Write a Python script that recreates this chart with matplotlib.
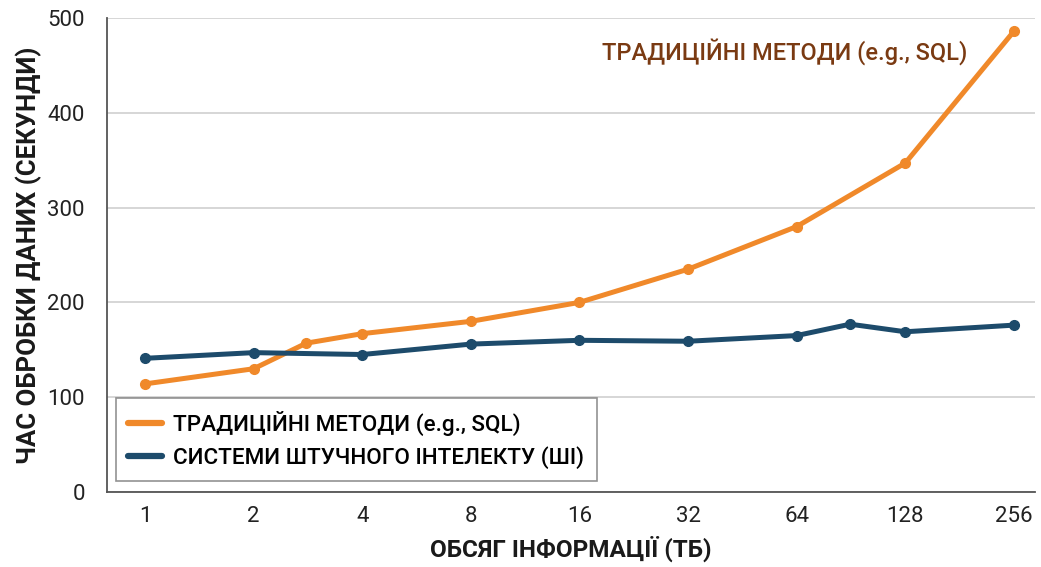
import matplotlib
matplotlib.use("Agg")
import matplotlib.pyplot as plt

# ── data ──────────────────────────────────────────────────────────────────────
tick_tb = [1, 2, 4, 8, 16, 32, 64, 128, 256]

trad_tb = [1, 2, 2.8, 4, 8, 16, 32, 64, 128, 256]
trad_sec = [114, 130, 157, 167, 180, 200, 235, 280, 347, 486]

ai_tb = [1, 2, 4, 8, 16, 32, 64, 90, 128, 256]
ai_sec = [141, 147, 145, 156, 160, 159, 165, 177, 169, 176]

trad_label = "ТРАДИЦІЙНІ МЕТОДИ (e.g., SQL)"
ai_label = "СИСТЕМИ ШТУЧНОГО ІНТЕЛЕКТУ (ШІ)"

ORANGE = "#f0892a"
BLUE = "#1d4b6b"
BROWN = "#7a3a12"

plt.rcParams["font.family"] = ["Roboto", "DejaVu Sans"]

fig = plt.figure(figsize=(10.41, 5.67), dpi=100)
ax = fig.add_axes([0.1028, 0.1323, 0.891, 0.836])

ax.plot(trad_tb, trad_sec, color=ORANGE, linewidth=3.6, marker="o",
        markersize=7, label=trad_label, solid_capstyle="round", zorder=3)
ax.plot(ai_tb, ai_sec, color=BLUE, linewidth=3.6, marker="o",
        markersize=7, label=ai_label, solid_capstyle="round", zorder=3)

ax.set_xscale("log", base=2)
ax.set_xticks(tick_tb)
ax.set_xticklabels([str(t) for t in tick_tb])
ax.minorticks_off()
ax.set_xlim(2 ** -0.35, 2 ** 8.19)
ax.set_ylim(0, 500)
ax.set_yticks([0, 100, 200, 300, 400, 500])

ax.tick_params(axis="both", length=0, labelsize=16, colors="#222222")
ax.tick_params(axis="y", pad=16)
ax.tick_params(axis="x", pad=10)
ax.grid(True, axis="y", color="#d0d0d0", linewidth=1.2)
ax.set_axisbelow(True)
for side in ["top", "right"]:
    ax.spines[side].set_visible(False)
for side in ["left", "bottom"]:
    ax.spines[side].set_color("#555555")
    ax.spines[side].set_linewidth(1.3)

ax.set_xlabel("ОБСЯГ ІНФОРМАЦІЇ (ТБ)", fontsize=17.5, fontweight="bold",
              color="#1a1a1a", labelpad=6)
ax.set_ylabel("ЧАС ОБРОБКИ ДАНИХ (СЕКУНДИ)", fontsize=18.5, fontweight="bold",
              color="#1a1a1a", labelpad=4)

ax.text(0.534, 0.93, trad_label, transform=ax.transAxes, fontsize=17,
        color=BROWN, ha="left", va="center", fontweight="medium")

leg = ax.legend(loc="lower left", bbox_to_anchor=(0.0097, 0.023),
                prop={"size": 16.2, "weight": "medium"}, frameon=True,
                fancybox=False, handlelength=1.5, handletextpad=0.5,
                borderpad=0.55, labelspacing=0.45, borderaxespad=0)
leg.get_frame().set_edgecolor("#777777")
leg.get_frame().set_linewidth(1.2)
for line in leg.get_lines():
    line.set_linewidth(4.5)
    line.set_marker("")

fig.savefig("out.png", dpi=100)
